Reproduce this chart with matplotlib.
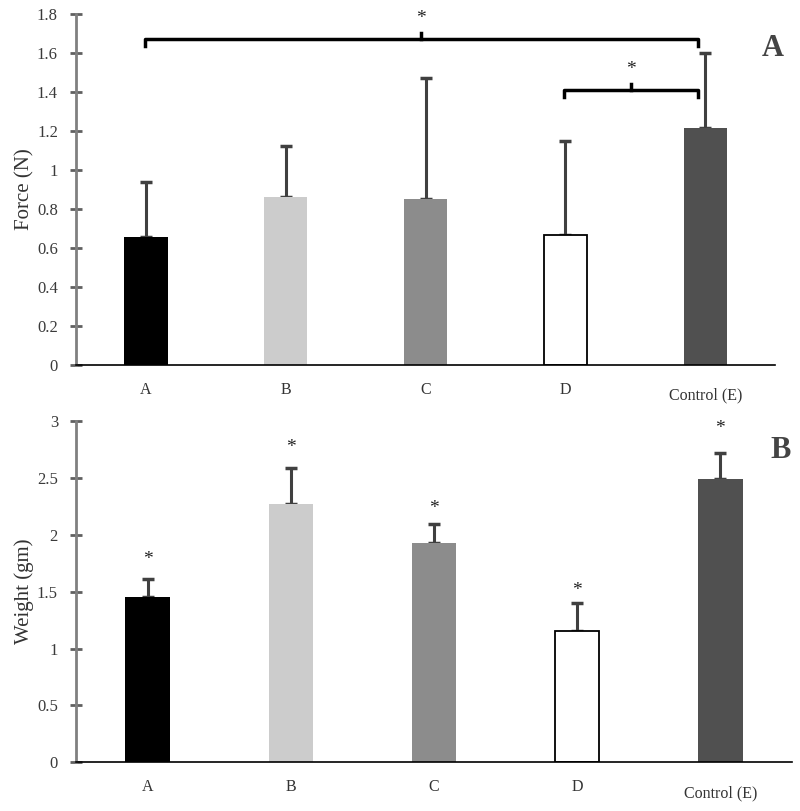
import matplotlib.pyplot as plt
import matplotlib.transforms as mtransforms

# dane
groups = ['A', 'B', 'C', 'D', 'Control (E)']
colors = ['#000000', '#cccccc', '#8c8c8c', '#ffffff', '#505050']

force = [0.656, 0.862, 0.851, 0.667, 1.215]
force_err = [0.282, 0.261, 0.621, 0.482, 0.385]

weight = [1.45, 2.27, 1.93, 1.15, 2.49]
weight_err = [0.16, 0.32, 0.16, 0.25, 0.23]
weight_star = [1.78, 2.77, 2.23, 1.51, 2.93]

# nawiasy istotności: (od, do, wysokość)
brackets = [(0, 4, 1.67), (3, 4, 1.41)]

plt.rcParams['font.family'] = ['Liberation Serif', 'DejaVu Serif']

fig = plt.figure(figsize=(8, 8.11), dpi=100)
ax1 = fig.add_axes([0.095, 0.55, 0.874, 0.433])
ax2 = fig.add_axes([0.095, 0.06, 0.895, 0.421])

x = list(range(len(groups)))


def style(ax, ymax, step):
    for s in ['top', 'right']:
        ax.spines[s].set_visible(False)
    ax.spines['left'].set_color('#808080')
    ax.spines['left'].set_linewidth(2)
    ax.spines['bottom'].set_color('black')
    ax.spines['bottom'].set_linewidth(1.2)
    ax.set_xlim(-0.5, 4.5)
    ax.set_ylim(0, ymax)
    ticks = [round(i * step, 2) for i in range(int(round(ymax / step)) + 1)]
    ax.set_yticks(ticks)
    ax.set_yticklabels(['%g' % t for t in ticks], fontsize=12, color='#3a3a3a')
    ax.tick_params(axis='y', direction='inout', length=8, width=2, color='#606060', pad=9)
    ax.tick_params(axis='x', length=0, pad=12, labelsize=11.5)
    ax.set_xticks(x)
    ax.set_xticklabels(groups, color='#333333')
    # "Control (E)" w oryginale jest nieco niżej
    lab = ax.get_xticklabels()[-1]
    lab.set_transform(lab.get_transform() + mtransforms.ScaledTranslation(0, -6 / 100, fig.dpi_scale_trans))


def bars(ax, vals, errs):
    ax.bar(x, vals, width=0.31, color=colors, edgecolor=['none', 'none', 'none', 'black', 'none'],
           linewidth=1.3, zorder=2)
    ax.errorbar(x, vals, yerr=[[0] * len(vals), errs], fmt='none', ecolor='#404040',
                elinewidth=2.2, capsize=4, capthick=2.5, zorder=1)


# panel A
bars(ax1, force, force_err)
style(ax1, 1.8, 0.2)
ax1.set_ylabel('Force (N)', fontsize=15, color='#333333', labelpad=2)
for a, b, h in brackets:
    xa, xb = a - 0.01, b - 0.05
    ax1.plot([xa, xa, xb, xb], [h - 0.035, h, h, h - 0.035], color='black', lw=2.5,
             solid_joinstyle='round', clip_on=False, zorder=3)
    xm = (xa + xb) / 2
    ax1.plot([xm, xm], [h, h + 0.03], color='black', lw=2.5, clip_on=False, zorder=3)
    ax1.text(xm, h + 0.06, '*', ha='center', va='bottom', fontsize=14, color='#222222')
ax1.text(4.48, 1.62, 'A', fontsize=22, fontweight='bold', color='#444444', ha='center', va='center')

# panel B
bars(ax2, weight, weight_err)
style(ax2, 3, 0.5)
ax2.set_ylabel('Weight (gm)', fontsize=15, color='#333333', labelpad=2)
for xi, s in zip(x, weight_star):
    ax2.text(xi, s, '*', ha='center', va='center', fontsize=14, color='#222222')
ax2.text(4.42, 2.74, 'B', fontsize=22, fontweight='bold', color='#444444', ha='center', va='center')

plt.savefig('out.png')
